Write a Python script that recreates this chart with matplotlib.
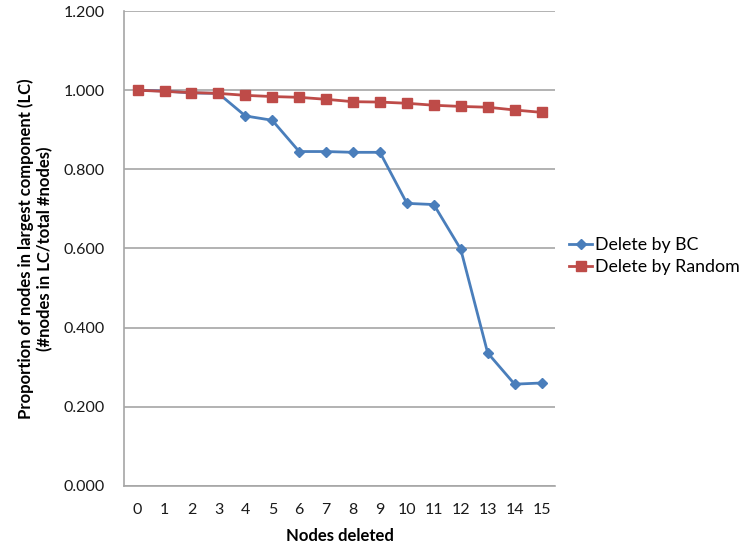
import matplotlib
matplotlib.use("Agg")
import matplotlib.pyplot as plt

plt.rcParams['font.family'] = ['Lato', 'DejaVu Sans']

nodes_deleted = list(range(16))
delete_by_bc = [1.000, 0.998, 0.993, 0.992, 0.935, 0.924, 0.845, 0.845,
                0.843, 0.843, 0.714, 0.711, 0.598, 0.336, 0.257, 0.260]
delete_by_random = [1.000, 0.997, 0.994, 0.992, 0.987, 0.984, 0.982, 0.977,
                    0.971, 0.970, 0.967, 0.962, 0.959, 0.957, 0.950, 0.944]
y_ticks = [0.0, 0.2, 0.4, 0.6, 0.8, 1.0, 1.2]

blue = '#4a7ebb'
red = '#be4b48'
grid_gray = '#a6a6a6'

fig = plt.figure(figsize=(7.39, 5.54), dpi=100)
ax = fig.add_axes([0.168, 0.123, 0.583, 0.857])

ax.plot(nodes_deleted, delete_by_bc, color=blue, lw=2, marker='D',
        markersize=5, label='Delete by BC', zorder=3)
ax.plot(nodes_deleted, delete_by_random, color=red, lw=2, marker='s',
        markersize=6.5, label='Delete by Random', zorder=4)

ax.set_xlim(-0.5, 15.5)
ax.set_ylim(0, 1.2)
ax.set_yticks(y_ticks)
ax.set_yticklabels([f'{v:.3f}' for v in y_ticks])
ax.set_xticks(nodes_deleted)
ax.set_xticklabels([str(n) for n in nodes_deleted])
ax.tick_params(axis='both', length=0, labelsize=11.5, colors='#1a1a1a')
ax.tick_params(axis='y', pad=14)
ax.tick_params(axis='x', pad=12)

ax.yaxis.grid(True, color=grid_gray, lw=1.2)
ax.set_axisbelow(True)
for side in ('top', 'right'):
    ax.spines[side].set_visible(False)
for side in ('left', 'bottom'):
    ax.spines[side].set_color(grid_gray)
    ax.spines[side].set_linewidth(1.2)

ax.set_xlabel('Nodes deleted', fontsize=12, fontweight='bold', labelpad=8)
ax.set_ylabel('Proportion of nodes in largest component (LC)\n(#nodes in LC/total #nodes)',
              fontsize=12, fontweight='bold', labelpad=7, linespacing=1.25)

leg = ax.legend(loc='center left', bbox_to_anchor=(1.0, 0.484), frameon=False,
                fontsize=12.8, handlelength=1.3, handletextpad=0.15,
                labelspacing=0.3, borderpad=0.2, borderaxespad=0.6)

fig.savefig('out.png', dpi=100, facecolor='white')
